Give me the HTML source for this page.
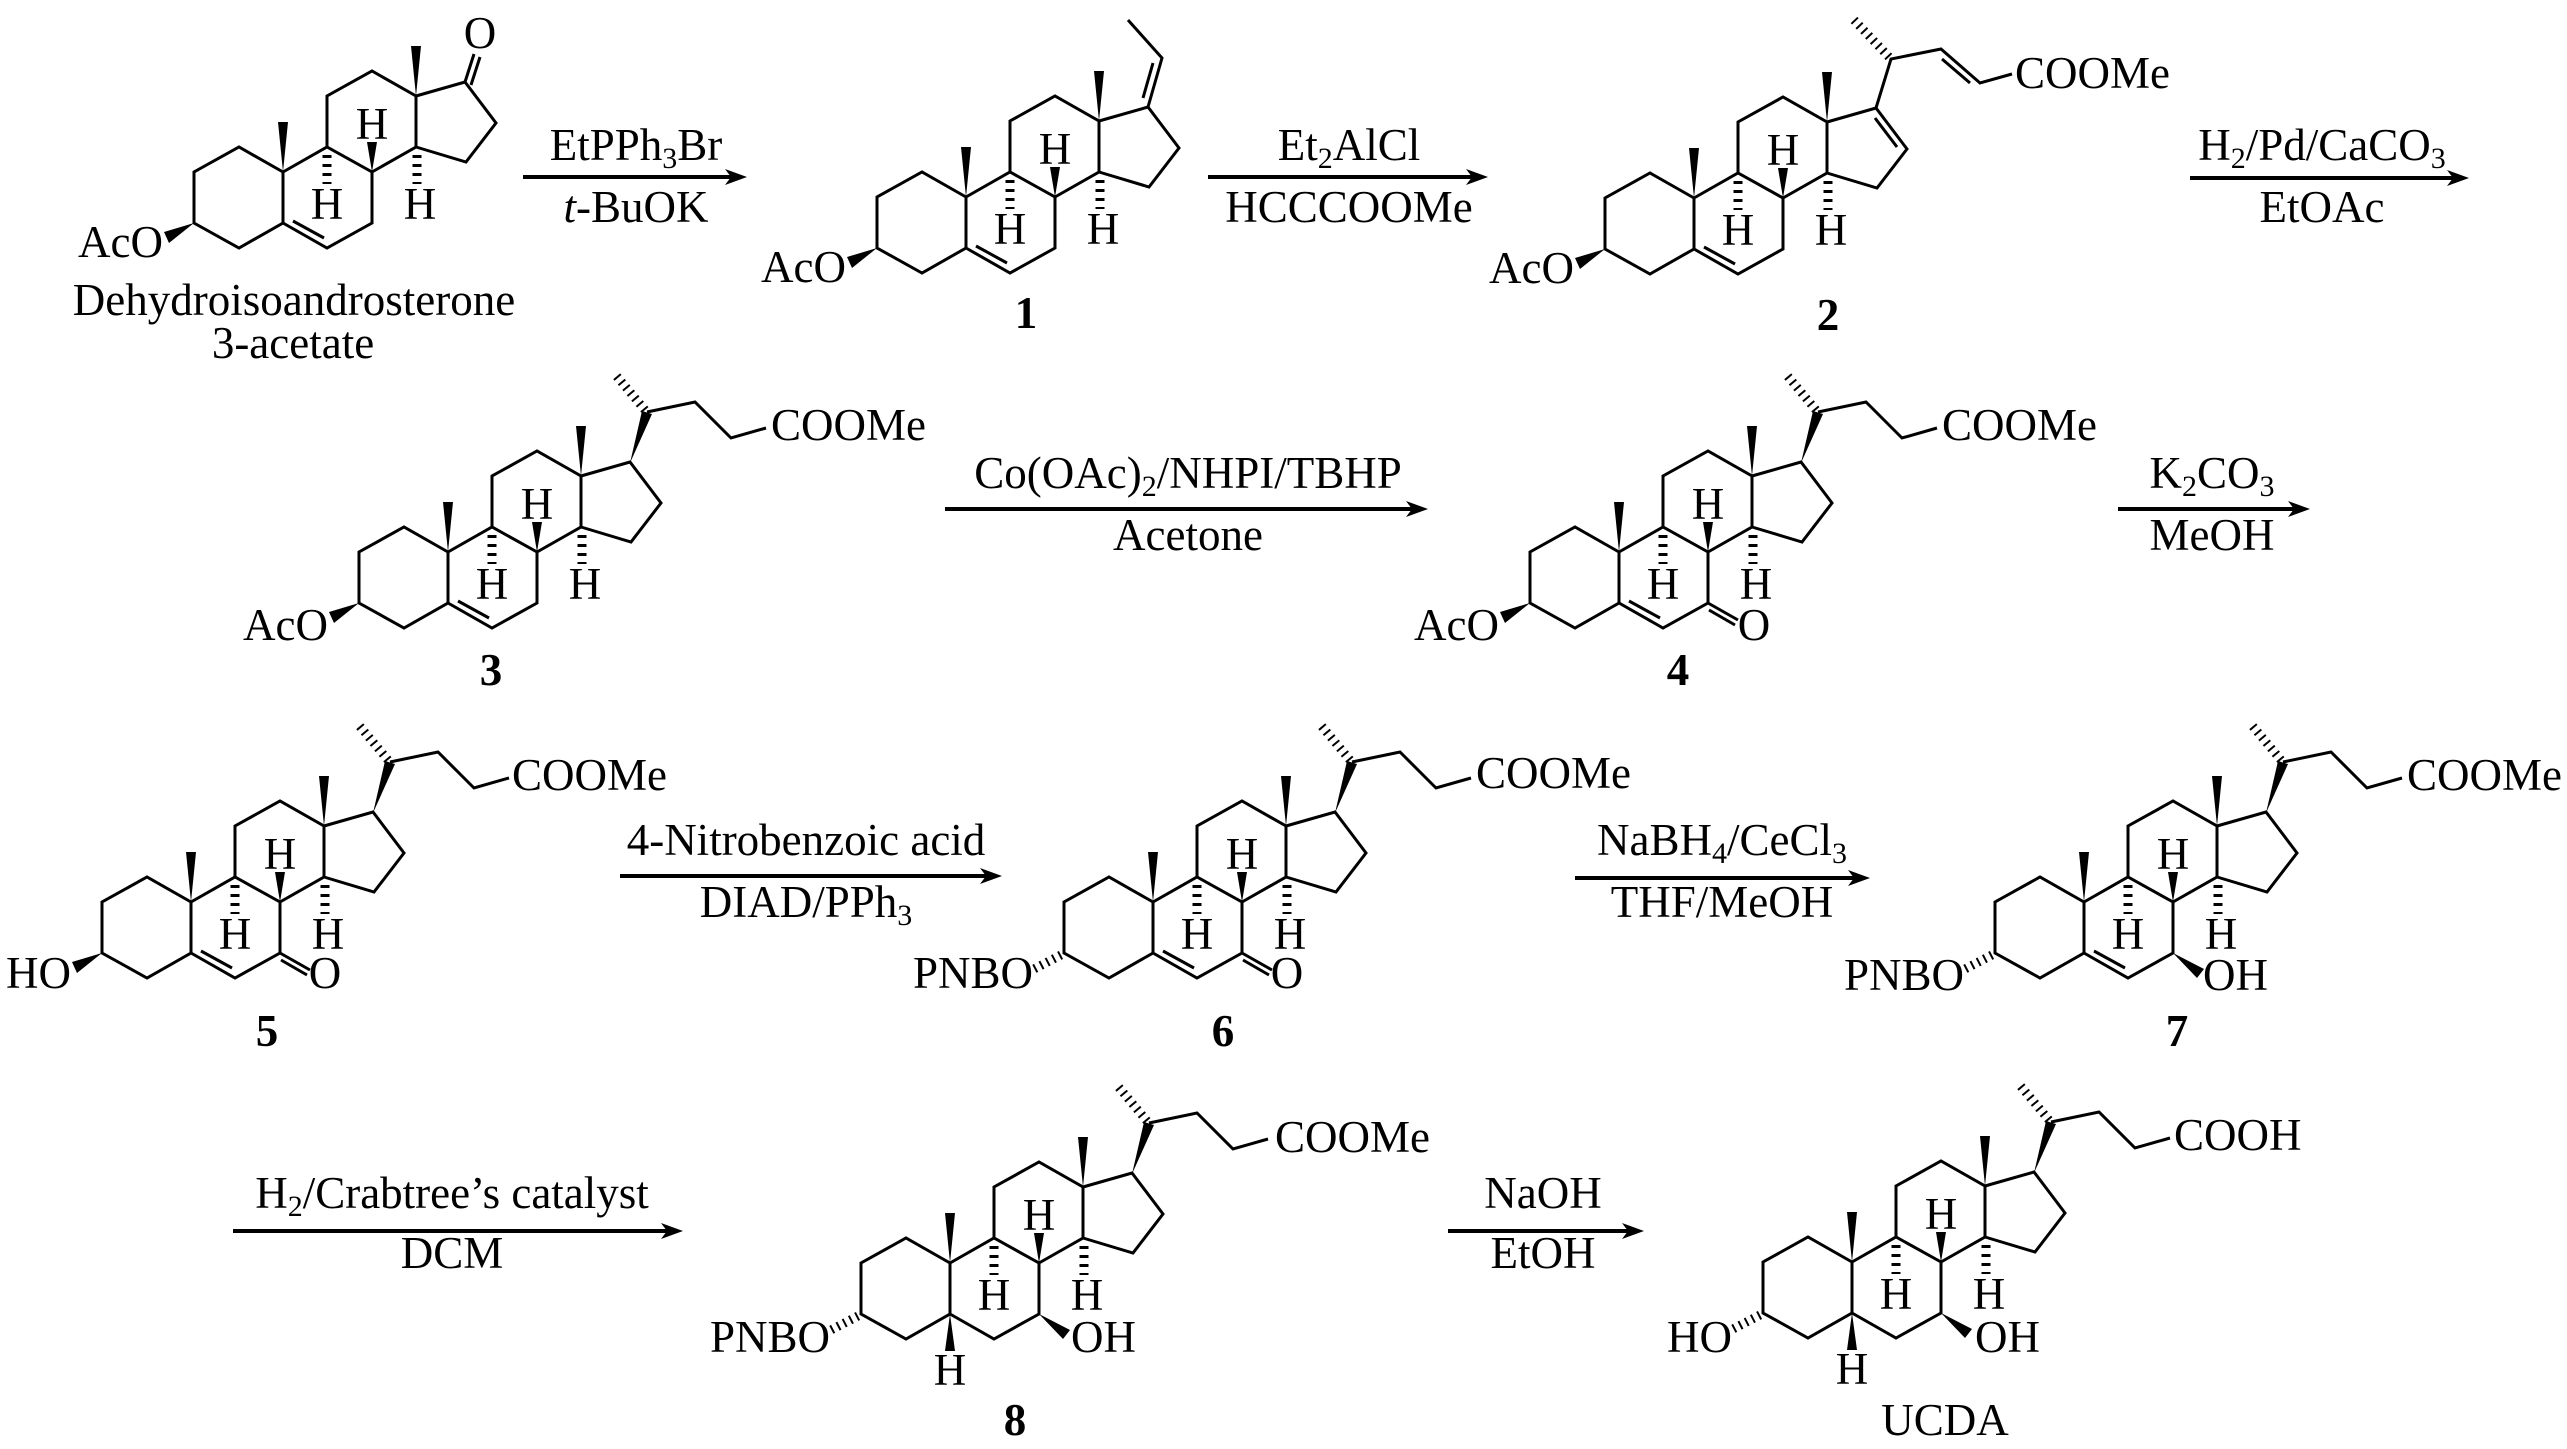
<!DOCTYPE html>
<html><head><meta charset="utf-8"><style>
html,body{margin:0;padding:0;background:#fff;}
svg{display:block;}
text{font-family:"Liberation Serif","Times New Roman",serif;font-size:45px;fill:#000;stroke:none;}
.b{font-weight:bold;}
.m{text-anchor:middle;}
.e{text-anchor:end;}
</style></head><body>
<svg width="2567" height="1449" viewBox="0 0 2567 1449" xmlns="http://www.w3.org/2000/svg">
<defs>
<g id="core">
 <path fill="none" stroke="#000" stroke-width="3" d="M0,0 L-44,-25 L-89,0 L-89,51 L-44,76 L0,51 Z M0,0 L44,-25 L89,0 L89,51 L44,76 L0,51 M44,-25 L44,-76 L89,-101 L133,-76 L133,-25 L89,0 M133,-76 L182,-90 L213,-49 L183,-10 L133,-25"/>
 <polygon fill="#000" points="0,0 -5,-50 5,-50"/>
 <polygon fill="#000" points="133,-76 128,-126 138,-126"/>
 <polygon fill="#000" points="89,0 84,-30 94,-30"/>
 <line x1="44" y1="-17" x2="44" y2="12" stroke="#000" stroke-width="9" stroke-dasharray="3,6"/>
 <line x1="134" y1="-17" x2="134" y2="12" stroke="#000" stroke-width="9" stroke-dasharray="3,6"/>
 <text class="m" x="89" y="-33">H</text>
 <text class="m" x="44" y="47">H</text>
 <text class="m" x="137" y="47">H</text>
</g>
<line id="ene" x1="10" y1="49" x2="41" y2="66" stroke="#000" stroke-width="3"/>
<polygon id="bwedge3" fill="#000" points="-89,51 -119,60 -114,71"/>
<line id="hash3" x1="-92" y1="53" x2="-119" y2="67" stroke="#000" stroke-width="9" stroke-dasharray="2,5"/>
<g id="keto7">
 <line x1="89" y1="51" x2="119" y2="68" stroke="#000" stroke-width="3"/>
 <line x1="90" y1="58" x2="116" y2="73" stroke="#000" stroke-width="3"/>
</g>
<polygon id="oh7" fill="#000" points="89,51 113,76 120,67"/>
<g id="chain">
 <polygon fill="#000" points="182,-89 194,-141 204,-138"/>
 <line x1="197" y1="-142" x2="166" y2="-179" stroke="#000" stroke-width="9" stroke-dasharray="2,5"/>
 <polyline fill="none" stroke="#000" stroke-width="3" points="199,-140 247,-150 283,-114 318,-124"/>
</g>
<g id="c5h">
 <polygon fill="#000" points="0,51 -5,88 5,88"/>
 <text class="m" x="0" y="122">H</text>
</g>
</defs>

<g transform="translate(283,172)">
 <use href="#core"/><use href="#ene"/><use href="#bwedge3"/>
 <line x1="182" y1="-90" x2="191" y2="-118" stroke="#000" stroke-width="3"/>
 <line x1="188" y1="-87" x2="197" y2="-115" stroke="#000" stroke-width="3"/>
 <text class="m" x="197" y="-124">O</text>
 <text class="e" x="-120" y="85">AcO</text>
</g>
<text class="m" x="294" y="315">Dehydroisoandrosterone</text>
<text class="m" x="293" y="358">3-acetate</text>

<g transform="translate(966,197)">
 <use href="#core"/><use href="#ene"/><use href="#bwedge3"/>
 <polyline fill="none" stroke="#000" stroke-width="3" points="182,-90 196,-139 162,-177"/>
 <line x1="177" y1="-99" x2="187" y2="-134" stroke="#000" stroke-width="3"/>
 <text class="e" x="-120" y="85">AcO</text>
</g>
<text class="m b" x="1026" y="328">1</text>

<g transform="translate(1694,198)">
 <use href="#core"/><use href="#ene"/><use href="#bwedge3"/>
 <line x1="181" y1="-80" x2="203" y2="-51" stroke="#000" stroke-width="3"/>
 <polyline fill="none" stroke="#000" stroke-width="3" points="182,-90 197,-139 247,-149 286,-115 318,-124"/>
 <line x1="248" y1="-139" x2="276" y2="-115" stroke="#000" stroke-width="3"/>
 <line x1="195" y1="-141" x2="160" y2="-178" stroke="#000" stroke-width="9" stroke-dasharray="2,5"/>
 <text x="321" y="-110">COOMe</text>
 <text class="e" x="-120" y="85">AcO</text>
</g>
<text class="m b" x="1828" y="330">2</text>

<g transform="translate(448,552)">
 <use href="#core"/><use href="#ene"/><use href="#bwedge3"/><use href="#chain"/>
 <text x="323" y="-112">COOMe</text>
 <text class="e" x="-120" y="88">AcO</text>
</g>
<text class="m b" x="491" y="685">3</text>

<g transform="translate(1619,552)">
 <use href="#core"/><use href="#ene"/><use href="#bwedge3"/><use href="#chain"/><use href="#keto7"/>
 <text class="m" x="135" y="88">O</text>
 <text x="323" y="-112">COOMe</text>
 <text class="e" x="-120" y="88">AcO</text>
</g>
<text class="m b" x="1678" y="685">4</text>

<g transform="translate(191,902)">
 <use href="#core"/><use href="#ene"/><use href="#bwedge3"/><use href="#chain"/><use href="#keto7"/>
 <text class="m" x="134" y="86">O</text>
 <text x="321" y="-112">COOMe</text>
 <text class="e" x="-120" y="86">HO</text>
</g>
<text class="m b" x="267" y="1046">5</text>

<g transform="translate(1153,902)">
 <use href="#core"/><use href="#ene"/><use href="#hash3"/><use href="#chain"/><use href="#keto7"/>
 <text class="m" x="134" y="86">O</text>
 <text x="323" y="-114">COOMe</text>
 <text class="e" x="-120" y="86">PNBO</text>
</g>
<text class="m b" x="1223" y="1046">6</text>

<g transform="translate(2084,902)">
 <use href="#core"/><use href="#ene"/><use href="#hash3"/><use href="#chain"/><use href="#oh7"/>
 <text x="119" y="88">OH</text>
 <text x="323" y="-112">COOMe</text>
 <text class="e" x="-120" y="88">PNBO</text>
</g>
<text class="m b" x="2177" y="1046">7</text>

<g transform="translate(950,1263)">
 <use href="#core"/><use href="#hash3"/><use href="#chain"/><use href="#oh7"/><use href="#c5h"/>
 <text x="121" y="89">OH</text>
 <text x="325" y="-111">COOMe</text>
 <text class="e" x="-120" y="89">PNBO</text>
</g>
<text class="m b" x="1015" y="1435">8</text>

<g transform="translate(1852,1262)">
 <use href="#core"/><use href="#hash3"/><use href="#chain"/><use href="#oh7"/><use href="#c5h"/>
 <text x="123" y="90">OH</text>
 <text x="322" y="-112">COOH</text>
 <text class="e" x="-120" y="90">HO</text>
</g>
<text class="m" x="1945" y="1435">UCDA</text>

<g stroke="#000" stroke-width="4">
 <line x1="523" y1="177" x2="735" y2="177"/>
 <line x1="1208" y1="177" x2="1476" y2="177"/>
 <line x1="2190" y1="178" x2="2457" y2="178"/>
 <line x1="945" y1="509" x2="1416" y2="509"/>
 <line x1="2118" y1="509" x2="2298" y2="509"/>
 <line x1="620" y1="876" x2="990" y2="876"/>
 <line x1="1575" y1="878" x2="1858" y2="878"/>
 <line x1="233" y1="1231" x2="671" y2="1231"/>
 <line x1="1448" y1="1231" x2="1632" y2="1231"/>
</g>
<g fill="#000">
 <polygon points="747,177 725,169 731,177 725,185"/>
 <polygon points="1488,177 1466,169 1472,177 1466,185"/>
 <polygon points="2469,178 2447,170 2453,178 2447,186"/>
 <polygon points="1428,509 1406,501 1412,509 1406,517"/>
 <polygon points="2310,509 2288,501 2294,509 2288,517"/>
 <polygon points="1002,876 980,868 986,876 980,884"/>
 <polygon points="1870,878 1848,870 1854,878 1848,886"/>
 <polygon points="683,1231 661,1223 667,1231 661,1239"/>
 <polygon points="1644,1231 1622,1223 1628,1231 1622,1239"/>
</g>

<text class="m" x="636" y="160">EtPPh<tspan font-size="30" dy="8">3</tspan><tspan dy="-8">Br</tspan></text>
<text class="m" x="636" y="222"><tspan font-style="italic">t</tspan>-BuOK</text>
<text class="m" x="1349" y="160">Et<tspan font-size="30" dy="8">2</tspan><tspan dy="-8">AlCl</tspan></text>
<text class="m" x="1349" y="222">HCCCOOMe</text>
<text class="m" x="2322" y="160">H<tspan font-size="30" dy="8">2</tspan><tspan dy="-8">/Pd/CaCO</tspan><tspan font-size="30" dy="8">3</tspan></text>
<text class="m" x="2322" y="222">EtOAc</text>
<text class="m" x="1188" y="488">Co(OAc)<tspan font-size="30" dy="8">2</tspan><tspan dy="-8">/NHPI/TBHP</tspan></text>
<text class="m" x="1188" y="550">Acetone</text>
<text class="m" x="2212" y="488">K<tspan font-size="30" dy="8">2</tspan><tspan dy="-8">CO</tspan><tspan font-size="30" dy="8">3</tspan></text>
<text class="m" x="2212" y="550">MeOH</text>
<text class="m" x="806" y="855">4-Nitrobenzoic acid</text>
<text class="m" x="806" y="917">DIAD/PPh<tspan font-size="30" dy="8">3</tspan></text>
<text class="m" x="1722" y="855">NaBH<tspan font-size="30" dy="8">4</tspan><tspan dy="-8">/CeCl</tspan><tspan font-size="30" dy="8">3</tspan></text>
<text class="m" x="1722" y="917">THF/MeOH</text>
<text class="m" x="452" y="1208">H<tspan font-size="30" dy="8">2</tspan><tspan dy="-8">/Crabtree’s catalyst</tspan></text>
<text class="m" x="452" y="1268">DCM</text>
<text class="m" x="1543" y="1208">NaOH</text>
<text class="m" x="1543" y="1268">EtOH</text>
</svg>
</body></html>
